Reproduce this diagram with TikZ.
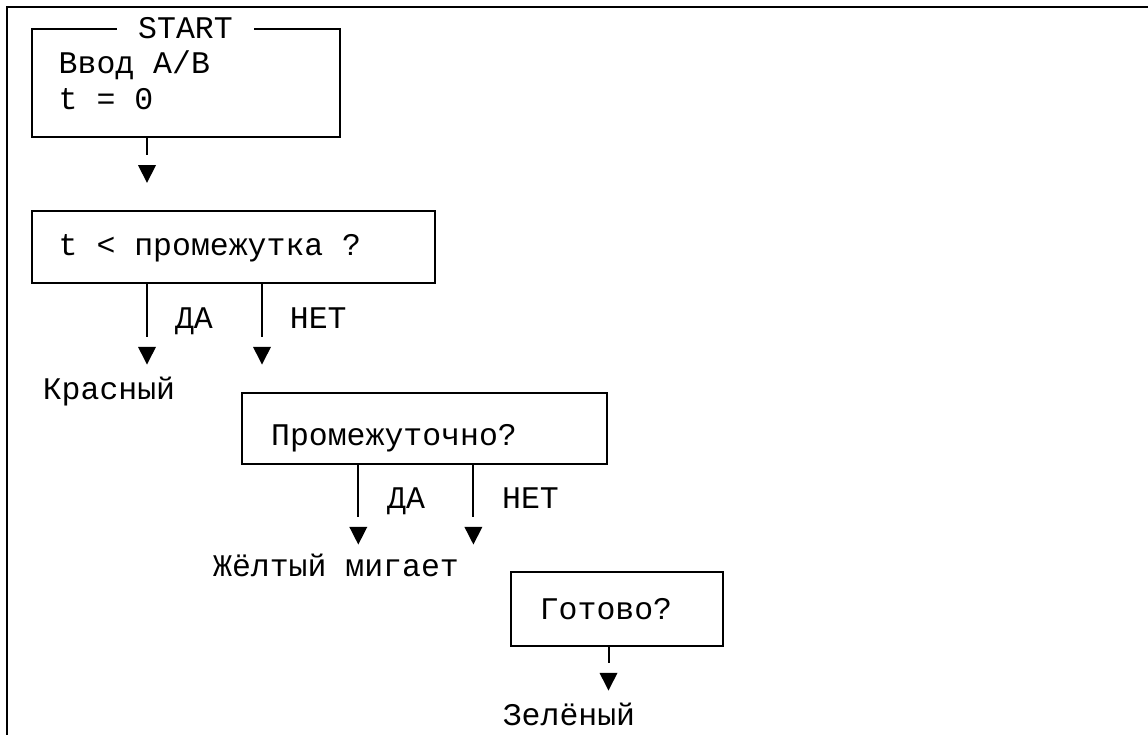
\documentclass[tikz,border=0pt]{standalone}
\usepackage{fontspec}
\setmainfont{Liberation Mono}
\usetikzlibrary{shapes.geometric}
\begin{document}
\begin{tikzpicture}[x=1pt,y=-1pt,
  box/.style={draw, line width=2pt, rectangle, inner sep=0pt},
  lbl/.style={font=\fontsize{31.5}{36}\selectfont, inner sep=0pt, anchor=base},
  lblw/.style={lbl, anchor=base west},
  tip/.style={isosceles triangle, isosceles triangle stretches,
    shape border rotate=-90, fill=black, draw=none,
    minimum width=18pt, minimum height=17.6pt, inner sep=0pt, anchor=north},
  flow/.style={line width=2pt, shorten >=9.5pt}]
\useasboundingbox (0,0) rectangle (1148,735);
% outer frame (open to the right and bottom)
\draw[line width=2.6pt] (7,735) -- (7,7) -- (1148,7);

% boxes
\node[box, minimum width=308.3pt, minimum height=107.4pt] (start) at (185.9,83) {};
\node[lbl, fill=white, inner xsep=21pt] (title) at (185.5,38.3) {START};
\node[lblw] (in1) at (58.5,74) {Ввод A/B};
\node[lblw] (in2) at (58.5,110) {t = 0};

\node[box, minimum width=403.3pt, minimum height=72pt] (q1) at (233.3,246.7) {};
\node[lblw] (q1t) at (58.5,256) {t < промежутка ?};

\node[box, minimum width=365pt, minimum height=71.3pt] (q2) at (424.8,428.3) {};
\node[lbl] (q2t) at (394,445) {Промежуточно?};

\node[box, minimum width=212.3pt, minimum height=73.7pt] (q3) at (617.2,609.2) {};
\node[lbl] (q3t) at (606,619.3) {Готово?};

% arrow heads
\node[tip] (t1) at (147,165) {};
\node[tip] (t2) at (147,346.7) {};
\node[tip] (t3) at (262,346.7) {};
\node[tip] (t4) at (358.3,526.7) {};
\node[tip] (t5) at (473.4,526.7) {};
\node[tip] (t6) at (608.5,672.7) {};

% connectors
\draw[flow] (start.south -| t1) -- (t1.north);
\draw[flow] (q1.south -| t2) -- (t2.north);
\draw[flow] (q1.south -| t3) -- (t3.north);
\draw[flow] (q2.south -| t4) -- (t4.north);
\draw[flow] (q2.south -| t5) -- (t5.north);
\draw[flow] (q3.south -| t6) -- (t6.north);

% branch labels
\node[lbl] (y1) at (194,328) {ДА};
\node[lbl] (n1) at (318.3,328) {НЕТ};
\node[lbl] (y2) at (406,508.3) {ДА};
\node[lbl] (n2) at (530.5,508.3) {НЕТ};

% outcomes
\node[lbl] (red) at (109,399.3) {Красный};
\node[lbl] (yel) at (336,576.7) {Жёлтый мигает};
\node[lbl] (grn) at (569,725) {Зелёный};
\end{tikzpicture}
\end{document}
